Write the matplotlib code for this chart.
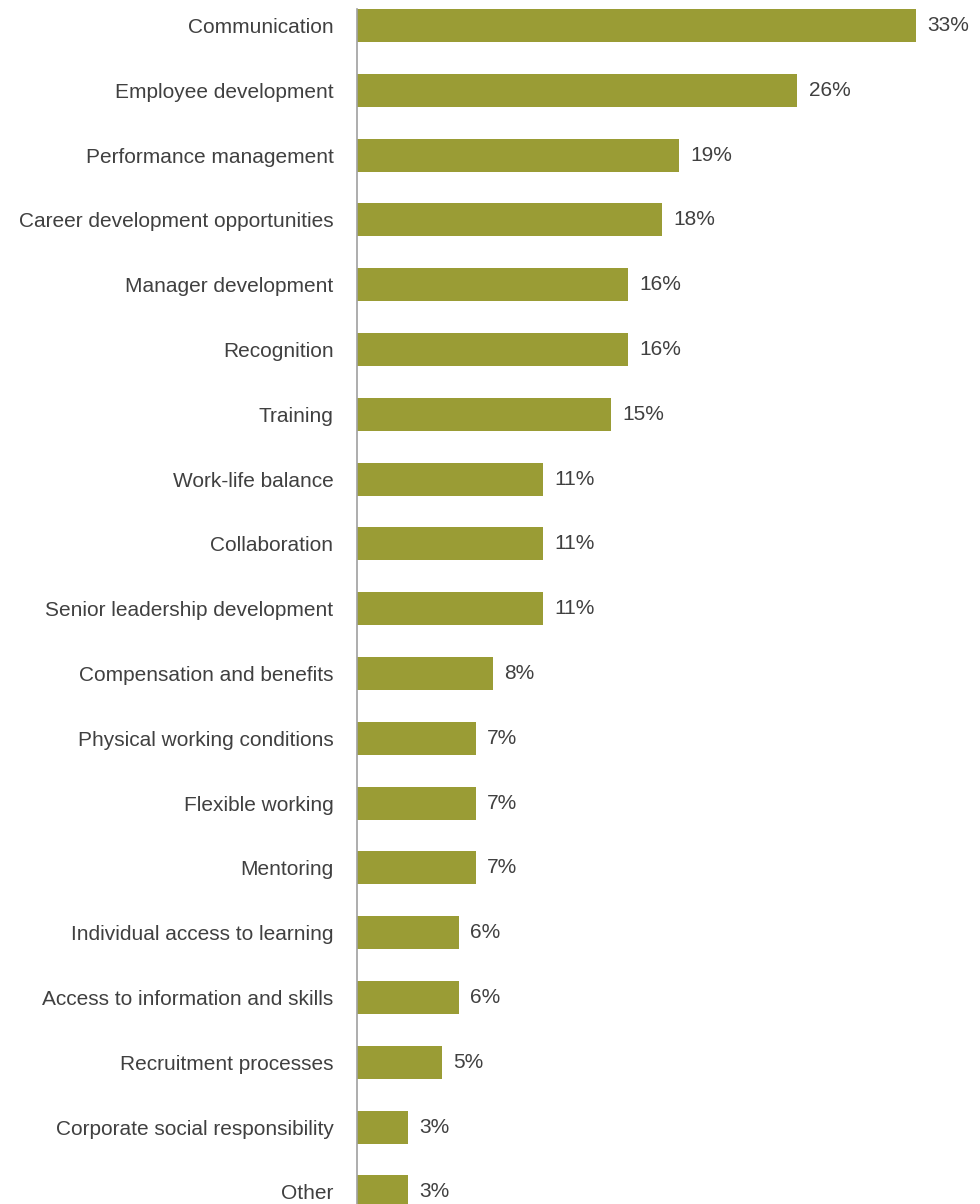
import matplotlib.pyplot as plt
import numpy as np

categories = [
    "Communication", "Employee development", "Performance management",
    "Career development opportunities", "Manager development", "Recognition",
    "Training", "Work-life balance", "Collaboration",
    "Senior leadership development", "Compensation and benefits",
    "Physical working conditions", "Flexible working", "Mentoring",
    "Individual access to learning", "Access to information and skills",
    "Recruitment processes", "Corporate social responsibility", "Other",
]
values = [33, 26, 19, 18, 16, 16, 15, 11, 11, 11, 8, 7, 7, 7, 6, 6, 5, 3, 3]

plt.rcParams['font.family'] = ['Liberation Sans', 'DejaVu Sans']

W, H = 980, 1204
fig = plt.figure(figsize=(W / 100, H / 100), dpi=100)
ax = fig.add_axes([357 / W, 0, (916 - 357) / W, 1])

ypos = np.arange(len(categories))
bar_h = 0.51
ax.barh(ypos, values, height=bar_h, color="#9a9c35", zorder=2)

# value labels just past the end of each bar
for y, v in zip(ypos, values):
    ax.annotate(f"{v}%", (v, y), xytext=(8, 0), textcoords="offset points",
                ha="left", va="center", fontsize=15, color="#404040",
                annotation_clip=False)

ax.set_xlim(0, max(values))
ax.set_ylim(18 + 12 / 64.8, -25.5 / 64.8)
ax.set_yticks(ypos)
ax.set_yticklabels(categories, fontsize=15, color="#404040")
ax.tick_params(axis="y", length=0, pad=17)
ax.set_xticks([])

for s in ["top", "right", "bottom"]:
    ax.spines[s].set_visible(False)
ax.spines["left"].set_color("#a0a0a0")
ax.spines["left"].set_linewidth(1.2)
ax.spines["left"].set_bounds(18 + 12 / 64.8, -bar_h / 2)

fig.savefig("out.png", dpi=100)
